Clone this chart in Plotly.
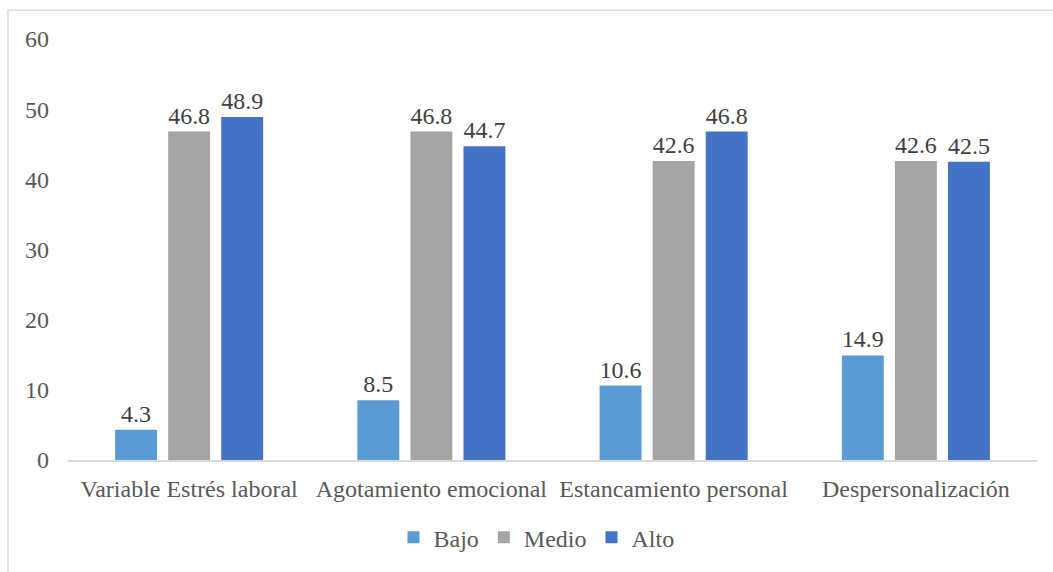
import plotly.graph_objects as go

categories = ["Variable Estrés laboral", "Agotamiento emocional", "Estancamiento personal", "Despersonalización"]
bajo = [4.3, 8.5, 10.6, 14.9]
medio = [46.8, 46.8, 42.6, 42.6]
alto = [48.9, 44.7, 46.8, 42.5]
y_ticks = [0, 10, 20, 30, 40, 50, 60]

W, H = 1053, 572
ml, mr, mt, mb = 68, 16, 39, 110
pw, ph = W - ml - mr, H - mt - mb

FAM = "Liberation Serif, Times New Roman, serif"
FS = 24
font = dict(family=FAM, size=FS, color="#595959")

fig = go.Figure()
for name, vals, col in [("Bajo", bajo, "#5B9BD5"), ("Medio", medio, "#A5A5A5"), ("Alto", alto, "#4472C4")]:
    fig.add_trace(go.Bar(
        name=name, x=categories, y=vals, marker=dict(color=col, line=dict(width=0)),
        text=[f"{v:.1f}" for v in vals],
        textposition="outside",
        textfont=dict(family=FAM, size=FS, color="#404040"),
        cliponaxis=False,
    ))

def px_x(p):
    return (p - ml) / pw

def px_y(p):
    return (H - mb - p) / ph

fig.add_shape(type="rect", xref="paper", yref="paper",
              x0=px_x(8), x1=px_x(1080), y0=px_y(10), y1=px_y(620),
              line=dict(color="#D9D9D9", width=1.5), fillcolor="rgba(0,0,0,0)", layer="below")

fig.update_layout(
    width=W, height=H,
    margin=dict(l=ml, r=mr, t=mt, b=mb),
    paper_bgcolor="white", plot_bgcolor="white",
    font=font,
    barmode="group", bargap=0.343, bargroupgap=0.21,
    showlegend=True,
    legend=dict(orientation="h", x=0.5 - 16 / pw, xanchor="center", y=px_y(540), yanchor="middle",
                font=dict(family=FAM, size=FS, color="#595959"),
                itemwidth=30, traceorder="normal"),
    uniformtext=dict(mode=False),
)
fig.update_xaxes(showline=True, linecolor="#D9D9D9", linewidth=1.5, ticks="", showgrid=False,
                 ticklabelstandoff=6,
                 tickfont=dict(family=FAM, size=FS, color="#595959"))
fig.update_yaxes(range=[0, 60], tickvals=y_ticks, showgrid=False, zeroline=False, showline=False,
                 ticks="", ticklabelstandoff=18,
                 tickfont=dict(family=FAM, size=FS, color="#595959"))

fig.write_html("out.html")
